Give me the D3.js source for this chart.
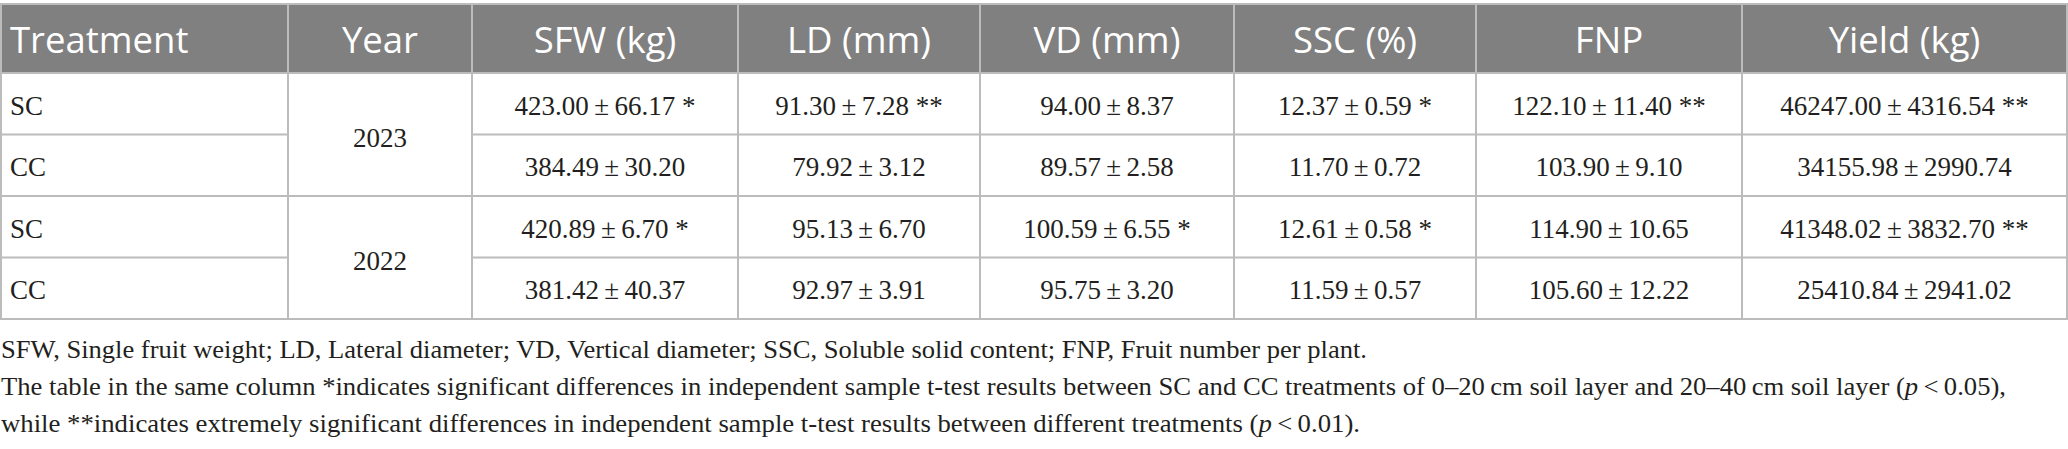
<!DOCTYPE html>
<html><head><meta charset="utf-8">
<script src="https://cdn.jsdelivr.net/npm/d3@7"></script>
<style>html,body{margin:0;padding:0;background:#fff;overflow:hidden}</style>
</head><body><svg id="c"></svg>
<script>
// ---- data ----
const columns = ["Treatment", "Year", "SFW (kg)", "LD (mm)", "VD (mm)", "SSC (%)", "FNP", "Yield (kg)"];
const treatments = ["SC", "CC", "SC", "CC"];
const years = ["2023", "2022"];
const sfwMean = [423.00, 384.49, 420.89, 381.42];
const sfwSd   = [66.17, 30.20, 6.70, 40.37];
const sfwSig  = ["*", "", "*", ""];
const ldMean  = [91.30, 79.92, 95.13, 92.97];
const ldSd    = [7.28, 3.12, 6.70, 3.91];
const ldSig   = ["**", "", "", ""];
const vdMean  = [94.00, 89.57, 100.59, 95.75];
const vdSd    = [8.37, 2.58, 6.55, 3.20];
const vdSig   = ["", "", "*", ""];
const sscMean = [12.37, 11.70, 12.61, 11.59];
const sscSd   = [0.59, 0.72, 0.58, 0.57];
const sscSig  = ["*", "", "*", ""];
const fnpMean = [122.10, 103.90, 114.90, 105.60];
const fnpSd   = [11.40, 9.10, 10.65, 12.22];
const fnpSig  = ["**", "", "", ""];
const yieldMean = [46247.00, 34155.98, 41348.02, 25410.84];
const yieldSd   = [4316.54, 2990.74, 3832.70, 2941.02];
const yieldSig  = ["**", "", "**", ""];
const footnotes = [
  [{t: "SFW, Single fruit weight; LD, Lateral diameter; VD, Vertical diameter; SSC, Soluble solid content; FNP, Fruit number per plant."}],
  [{t: "The table in the same column *indicates significant differences in independent sample t-test results between SC and CC treatments of 0\u201320\u2009cm soil layer and 20\u201340\u2009cm soil layer ("}, {t: "p", i: true}, {t: "\u2009<\u20090.05),"}],
  [{t: "while **indicates extremely significant differences in independent sample t-test results between different treatments ("}, {t: "p", i: true}, {t: "\u2009<\u20090.01)."}]
];

// ---- layout ----
const W = 2068, H = 449;
const colEdges = [0, 288, 472, 738, 980, 1234, 1476, 1742, 2067];
const headTop = 4, headBottom = 73, tableBottom = 319;
const footBaselines = [358, 395, 432];
const footEnds = [1367, 2006, 1360];

const svg = d3.select("#c").attr("width", W).attr("height", H);
const xL = d3.scaleOrdinal(columns, colEdges.slice(0, -1));
const xR = d3.scaleOrdinal(columns, colEdges.slice(1));
const xC = c => (xL(c) + xR(c)) / 2;
const y = d3.scaleBand().domain(d3.range(treatments.length)).range([headBottom, tableBottom]);
const yYear = d3.scaleBand().domain(years).range([headBottom, tableBottom]);

const fmt = d3.format(".2f");
const cell = (m, s, g) => fmt(m) + "\u2009\u00b1\u2009" + fmt(s) + (g ? " " + g : "");
const dataCols = [
  ["SFW (kg)", sfwMean, sfwSd, sfwSig],
  ["LD (mm)", ldMean, ldSd, ldSig],
  ["VD (mm)", vdMean, vdSd, vdSig],
  ["SSC (%)", sscMean, sscSd, sscSig],
  ["FNP", fnpMean, fnpSd, fnpSig],
  ["Yield (kg)", yieldMean, yieldSd, yieldSig]
];

const lineCol = "#bcbcbc";
const sans = "'Open Sans', 'Noto Sans', sans-serif";
const serif = "'Liberation Serif', 'DejaVu Serif', serif";
const ink = "#231f20";

// header background
svg.append("rect").attr("x", 0).attr("y", headTop).attr("width", colEdges[colEdges.length - 1])
  .attr("height", headBottom - headTop).attr("fill", "#808080");

// header texts
svg.append("g").selectAll("text").data(columns).join("text")
  .attr("x", (d, i) => i === 0 ? xL(d) + 10 : xC(d))
  .attr("y", 53)
  .attr("text-anchor", (d, i) => i === 0 ? "start" : "middle")
  .attr("font-family", sans).attr("font-size", 36.5).attr("fill", "#fff")
  .text(d => d);

// body: treatments
svg.append("g").selectAll("text").data(treatments).join("text")
  .attr("x", xL("Treatment") + 10)
  .attr("y", (d, i) => y(i) + y.bandwidth() / 2 + 11)
  .attr("font-family", serif).attr("font-size", 27).attr("fill", ink)
  .text(d => d);

// years (merged cells)
svg.append("g").selectAll("text").data(years).join("text")
  .attr("x", xC("Year"))
  .attr("y", d => yYear(d) + yYear.bandwidth() / 2 + 12)
  .attr("text-anchor", "middle")
  .attr("font-family", serif).attr("font-size", 27).attr("fill", ink)
  .text(d => d);

// data cells
const cells = [];
dataCols.forEach(([c, m, s, g]) => m.forEach((v, i) => cells.push({c, i, t: cell(v, s[i], g[i])})));
svg.append("g").selectAll("text").data(cells).join("text")
  .attr("x", d => xC(d.c))
  .attr("y", d => y(d.i) + y.bandwidth() / 2 + 11)
  .attr("text-anchor", "middle")
  .attr("font-family", serif).attr("font-size", 27).attr("fill", ink)
  .text(d => d.t);

// grid lines
const g = svg.append("g").attr("stroke", lineCol).attr("stroke-width", 2).attr("fill", "none");
g.append("rect").attr("x", 1).attr("y", headTop).attr("width", colEdges[colEdges.length - 1] - 1)
  .attr("height", tableBottom - headTop);
g.selectAll("line.v").data(colEdges.slice(1, -1)).join("line").attr("class", "v")
  .attr("x1", d => d).attr("x2", d => d).attr("y1", headTop).attr("y2", tableBottom);
g.append("line").attr("x1", 0).attr("x2", colEdges[colEdges.length - 1]).attr("y1", headBottom).attr("y2", headBottom);
d3.range(1, treatments.length).forEach(i => {
  const yy = y(i);
  if (i % 2 === 1) {
    g.append("line").attr("x1", 0).attr("x2", xR("Treatment")).attr("y1", yy).attr("y2", yy);
    g.append("line").attr("x1", xL("SFW (kg)")).attr("x2", colEdges[colEdges.length - 1]).attr("y1", yy).attr("y2", yy);
  } else {
    g.append("line").attr("x1", 0).attr("x2", colEdges[colEdges.length - 1]).attr("y1", yy).attr("y2", yy);
  }
});

// footnotes
footnotes.forEach((parts, k) => {
  const t = svg.append("text").attr("x", 1).attr("y", footBaselines[k])
    .attr("font-family", serif).attr("font-size", 25).attr("fill", ink)
    .attr("textLength", footEnds[k] - 1).attr("lengthAdjust", "spacingAndGlyphs");
  parts.forEach(p => t.append("tspan").attr("font-style", p.i ? "italic" : null).text(p.t));
});
</script>
</body></html>
